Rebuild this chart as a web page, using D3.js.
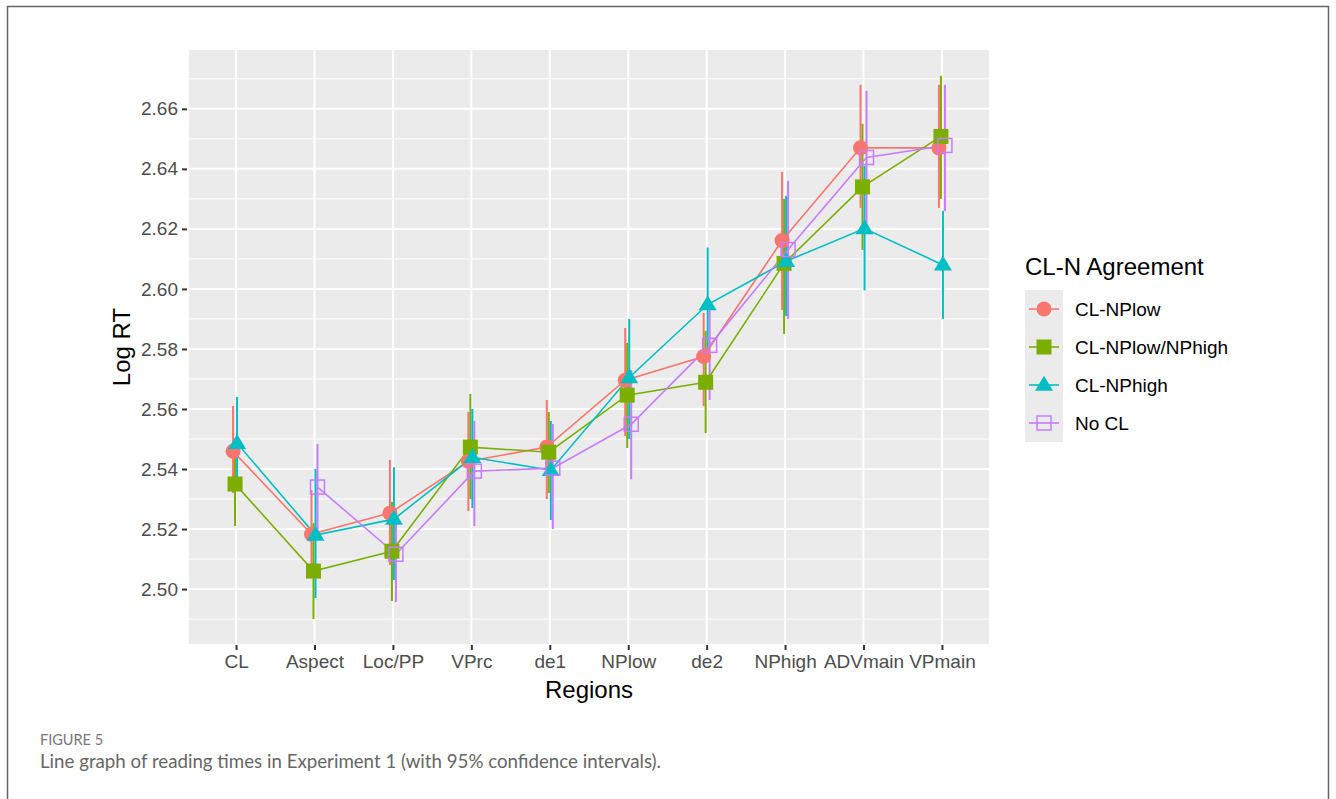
<!DOCTYPE html>
<html>
<head>
<meta charset="utf-8">
<script src="https://cdn.jsdelivr.net/npm/d3@7"></script>
<style>
  body { margin: 0; background: #fff; }
  svg { display: block; font-family: "Liberation Sans", Arial, sans-serif; }
</style>
</head>
<body>
<svg id="chart" width="1336" height="799"></svg>
<script>
const width = 1336, height = 799;
const svg = d3.select("#chart");

// regions on the x axis
const regions = ["CL", "Aspect", "Loc/PP", "VPrc", "de1", "NPlow", "de2", "NPhigh", "ADVmain", "VPmain"];
const groups = ["CL-NPlow", "CL-NPlow/NPhigh", "CL-NPhigh", "No CL"];
const yTicks = [2.50, 2.52, 2.54, 2.56, 2.58, 2.60, 2.62, 2.64, 2.66];

// means (log RT) per group, null = no value
const meanNPlow     = [2.5459, 2.5183, 2.5253, 2.5426, 2.5473, 2.5696, 2.5775, 2.6161, 2.6470, 2.6470];
const meanNPlowHigh = [2.5350, 2.5060, 2.5126, 2.5473, 2.5456, 2.5646, 2.5689, 2.6085, 2.6340, 2.6508];
const meanNPhigh    = [2.5486, 2.5180, 2.5233, 2.5439, 2.5396, 2.5705, 2.5948, 2.6092, 2.6201, 2.6080];
const meanNoCL      = [null,   2.5340, 2.5116, 2.5393, 2.5403, 2.5549, 2.5812, 2.6131, 2.6438, 2.6478];

// 95% CI bounds
const loNPlow     = [2.532, 2.504, 2.508, 2.526, 2.530, 2.551, 2.561, 2.593, 2.627, 2.627];
const hiNPlow     = [2.561, 2.533, 2.543, 2.559, 2.563, 2.587, 2.592, 2.639, 2.668, 2.668];
const loNPlowHigh = [2.521, 2.490, 2.496, 2.530, 2.532, 2.547, 2.552, 2.585, 2.613, 2.630];
const hiNPlowHigh = [2.550, 2.522, 2.529, 2.565, 2.559, 2.582, 2.586, 2.630, 2.655, 2.671];
const loNPhigh    = [2.533, 2.497, 2.503, 2.527, 2.523, 2.550, 2.577, 2.591, 2.5995, 2.590];
const hiNPhigh    = [2.564, 2.540, 2.5406, 2.560, 2.556, 2.590, 2.6138, 2.631, 2.641, 2.626];
const loNoCL      = [null,  2.5165, 2.4957, 2.521, 2.520, 2.5366, 2.563, 2.590, 2.620, 2.626];
const hiNoCL      = [null,  2.5483, 2.527, 2.556, 2.555, 2.573, 2.595, 2.636, 2.666, 2.668];

const colors = ["#F8766D", "#7CAE00", "#00BFC4", "#C77CFF"];
const shapes = ["circle", "square", "triangle", "opensquare"];
const dodge = [-3, -1, 1, 3];

const series = [
  { name: groups[0], mean: meanNPlow,     lo: loNPlow,     hi: hiNPlow },
  { name: groups[1], mean: meanNPlowHigh, lo: loNPlowHigh, hi: hiNPlowHigh },
  { name: groups[2], mean: meanNPhigh,    lo: loNPhigh,    hi: hiNPhigh },
  { name: groups[3], mean: meanNoCL,      lo: loNoCL,      hi: hiNoCL }
];

// outer figure frame
svg.append("path")
  .attr("d", `M7.5,${height} V6.5 H1328.5 V${height}`)
  .attr("fill", "none").attr("stroke", "#666").attr("stroke-width", 1.5);

const panel = { left: 189, right: 989, top: 50, bottom: 644 };
const x = d3.scalePoint().domain(regions).range([panel.left, panel.right]).padding(0.6);
const y = d3.scaleLinear().domain([2.4817, 2.6796]).range([panel.bottom, panel.top]);

const g = svg.append("g");
g.append("rect")
  .attr("x", panel.left).attr("y", panel.top)
  .attr("width", panel.right - panel.left).attr("height", panel.bottom - panel.top)
  .attr("fill", "#EBEBEB");

// minor grid
const minor = d3.range(2.49, 2.68, 0.02);
g.selectAll(".minor").data(minor).join("line")
  .attr("x1", panel.left).attr("x2", panel.right)
  .attr("y1", d => y(d)).attr("y2", d => y(d))
  .attr("stroke", "#fff").attr("stroke-width", 1);

// major grid
g.selectAll(".hmajor").data(yTicks).join("line")
  .attr("x1", panel.left).attr("x2", panel.right)
  .attr("y1", d => y(d)).attr("y2", d => y(d))
  .attr("stroke", "#fff").attr("stroke-width", 2);
g.selectAll(".vmajor").data(regions).join("line")
  .attr("x1", d => x(d)).attr("x2", d => x(d))
  .attr("y1", panel.top).attr("y2", panel.bottom)
  .attr("stroke", "#fff").attr("stroke-width", 2);

// axes
const yAxis = d3.axisLeft(y).tickValues(yTicks).tickFormat(d3.format(".2f")).tickSize(5).tickPadding(4);
const xAxis = d3.axisBottom(x).tickSize(5).tickPadding(5);

const ya = svg.append("g").attr("transform", `translate(${panel.left - 2},0)`).call(yAxis);
const xa = svg.append("g").attr("transform", `translate(0,${panel.bottom + 1})`).call(xAxis);
[ya, xa].forEach(a => {
  a.select(".domain").remove();
  a.selectAll(".tick line").attr("stroke", "#333").attr("stroke-width", 2);
  a.selectAll(".tick text").attr("fill", "#4D4D4D").style("font-size", "19px");
});

svg.append("text").attr("x", 589).attr("y", 698).attr("text-anchor", "middle")
  .style("font-size", "24px").attr("fill", "#000").text("Regions");
svg.append("text").attr("transform", "translate(130,347) rotate(-90)").attr("text-anchor", "middle")
  .style("font-size", "24px").attr("fill", "#000").text("Log RT");

// marks
const line = d3.line()
  .defined(d => d.v != null)
  .x(d => x(d.r) + d.dx).y(d => y(d.v));

function drawShape(sel, shape, color, cx, cy) {
  if (shape === "circle") {
    sel.append("circle").attr("cx", cx).attr("cy", cy).attr("r", 7.5).attr("fill", color);
  } else if (shape === "square") {
    sel.append("rect").attr("x", cx - 7.5).attr("y", cy - 7.5)
      .attr("width", 15).attr("height", 15).attr("fill", color);
  } else if (shape === "triangle") {
    const h = 15, w = 18;
    sel.append("path").attr("d", `M${cx},${cy - h * 0.62} L${cx + w / 2},${cy + h * 0.38} L${cx - w / 2},${cy + h * 0.38} Z`)
      .attr("fill", color);
  } else {
    sel.append("rect").attr("x", cx - 7).attr("y", cy - 7)
      .attr("width", 14).attr("height", 14)
      .attr("fill", "none").attr("stroke", color).attr("stroke-width", 1.5);
  }
}

// error bars first
series.forEach((s, i) => {
  const eg = g.append("g");
  regions.forEach((r, j) => {
    if (s.lo[j] == null) return;
    eg.append("line")
      .attr("x1", x(r) + dodge[i]).attr("x2", x(r) + dodge[i])
      .attr("y1", y(s.lo[j])).attr("y2", y(s.hi[j]))
      .attr("stroke", colors[i]).attr("stroke-width", 2);
  });
});

series.forEach((s, i) => {
  const pts = regions.map((r, j) => ({ r, v: s.mean[j], dx: dodge[i] }));
  g.append("path").datum(pts).attr("d", line)
    .attr("fill", "none").attr("stroke", colors[i]).attr("stroke-width", 1.6);
});

series.forEach((s, i) => {
  const pg = g.append("g");
  regions.forEach((r, j) => {
    if (s.mean[j] == null) return;
    drawShape(pg, shapes[i], colors[i], x(r) + dodge[i], y(s.mean[j]));
  });
});

// legend
const lg = svg.append("g");
lg.append("text").attr("x", 1025).attr("y", 275).style("font-size", "24px").attr("fill", "#000").text("CL-N Agreement");
groups.forEach((name, i) => {
  const cy = 309 + i * 38;
  lg.append("rect").attr("x", 1025).attr("y", cy - 19).attr("width", 38).attr("height", 38).attr("fill", "#EBEBEB");
  lg.append("line").attr("x1", 1029).attr("x2", 1059).attr("y1", cy).attr("y2", cy)
    .attr("stroke", colors[i]).attr("stroke-width", 1.6);
  drawShape(lg, shapes[i], colors[i], 1044, cy);
  lg.append("text").attr("x", 1075).attr("y", cy + 7).style("font-size", "19px").attr("fill", "#000").text(name);
});

// caption
svg.append("text").attr("x", 40).attr("y", 745)
  .style("font-family", "Lato, 'Open Sans', sans-serif").style("font-size", "14.5px")
  .attr("fill", "#777").text("FIGURE 5");
svg.append("text").attr("x", 40).attr("y", 768)
  .style("font-family", "Lato, 'Open Sans', sans-serif").style("font-size", "18.7px")
  .attr("fill", "#666").text("Line graph of reading times in Experiment 1 (with 95% confidence intervals).");
</script>
</body>
</html>
